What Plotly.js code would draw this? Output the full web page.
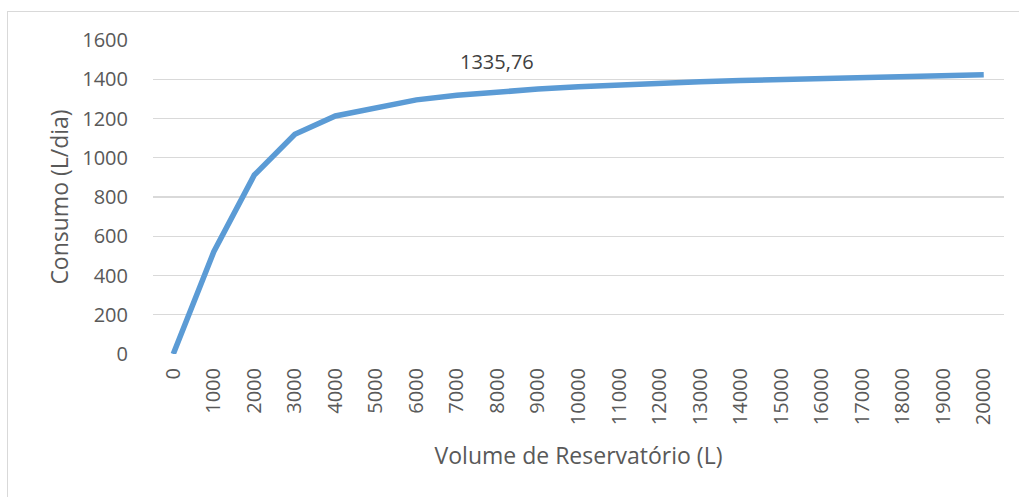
<!DOCTYPE html>
<html>
<head>
<meta charset="utf-8">
<script src="https://cdn.plot.ly/plotly-3.0.1.min.js"></script>
<style>
  html, body { margin: 0; padding: 0; background: #fff; overflow: hidden; }
  #chart { position: absolute; left: 0; top: 0; width: 1019px; height: 497px; }
  #frame { position: absolute; left: 7px; top: 11px; width: 1100px; height: 600px;
           border: 1px solid #d9d9d9; pointer-events: none; }
</style>
</head>
<body>
<div id="chart"></div>
<div id="frame"></div>
<script>
// Volume de reservatório (L) — categorias
const volumes = ["0","1000","2000","3000","4000","5000","6000","7000","8000","9000","10000",
                 "11000","12000","13000","14000","15000","16000","17000","18000","19000","20000"];
// Consumo (L/dia)
const consumo = [0, 521, 912, 1120, 1213, 1257, 1295, 1318, 1335.76, 1350, 1362,
                 1372, 1380, 1387, 1393, 1399, 1404, 1409, 1414, 1419, 1423];
// Rótulo de dados exibido
const labelIndex = 8;
const yTicks = [0, 200, 400, 600, 800, 1000, 1200, 1400, 1600];

const textColor = '#595959';
const fontFam = '"Open Sans", "Noto Sans", sans-serif';

const trace = {
  x: volumes,
  y: consumo,
  type: 'scatter',
  mode: 'lines',
  line: { color: '#5b9bd5', width: 5.5 },
  hoverinfo: 'x+y'
};

const layout = {
  width: 1019,
  height: 497,
  margin: { l: 153, r: 15, t: 40, b: 143 },
  paper_bgcolor: '#ffffff',
  plot_bgcolor: '#ffffff',
  font: { family: fontFam, size: 20, color: textColor },
  showlegend: false,
  xaxis: {
    type: 'category',
    range: [-0.5, volumes.length - 0.5],
    tickangle: -90,
    showgrid: false,
    zeroline: false,
    showline: false,
    ticks: 'outside',
    ticklen: 5,
    tickcolor: 'rgba(0,0,0,0)',
    tickfont: { family: fontFam, size: 20, color: textColor },
    title: { text: 'Volume de Reservatório (L)', standoff: 23,
             font: { family: fontFam, size: 23, color: textColor } },
    automargin: false
  },
  yaxis: {
    range: [0, 1600],
    tickvals: yTicks,
    ticktext: yTicks.map(String),
    showgrid: true,
    gridcolor: '#d9d9d9',
    gridwidth: 1.3,
    zeroline: false,
    showline: false,
    ticks: 'outside',
    ticklen: 20,
    tickcolor: 'rgba(0,0,0,0)',
    tickfont: { family: fontFam, size: 20, color: textColor },
    title: { text: 'Consumo (L/dia)', standoff: 7,
             font: { family: fontFam, size: 23, color: textColor } },
    automargin: false
  },
  annotations: [{
    x: labelIndex,
    y: consumo[labelIndex],
    xref: 'x', yref: 'y',
    text: String(consumo[labelIndex]).replace('.', ','),
    showarrow: false,
    yshift: 30,
    font: { family: fontFam, size: 20, color: '#404040' }
  }]
};

Plotly.newPlot('chart', [trace], layout, { displayModeBar: false, staticPlot: true });
</script>
</body>
</html>
